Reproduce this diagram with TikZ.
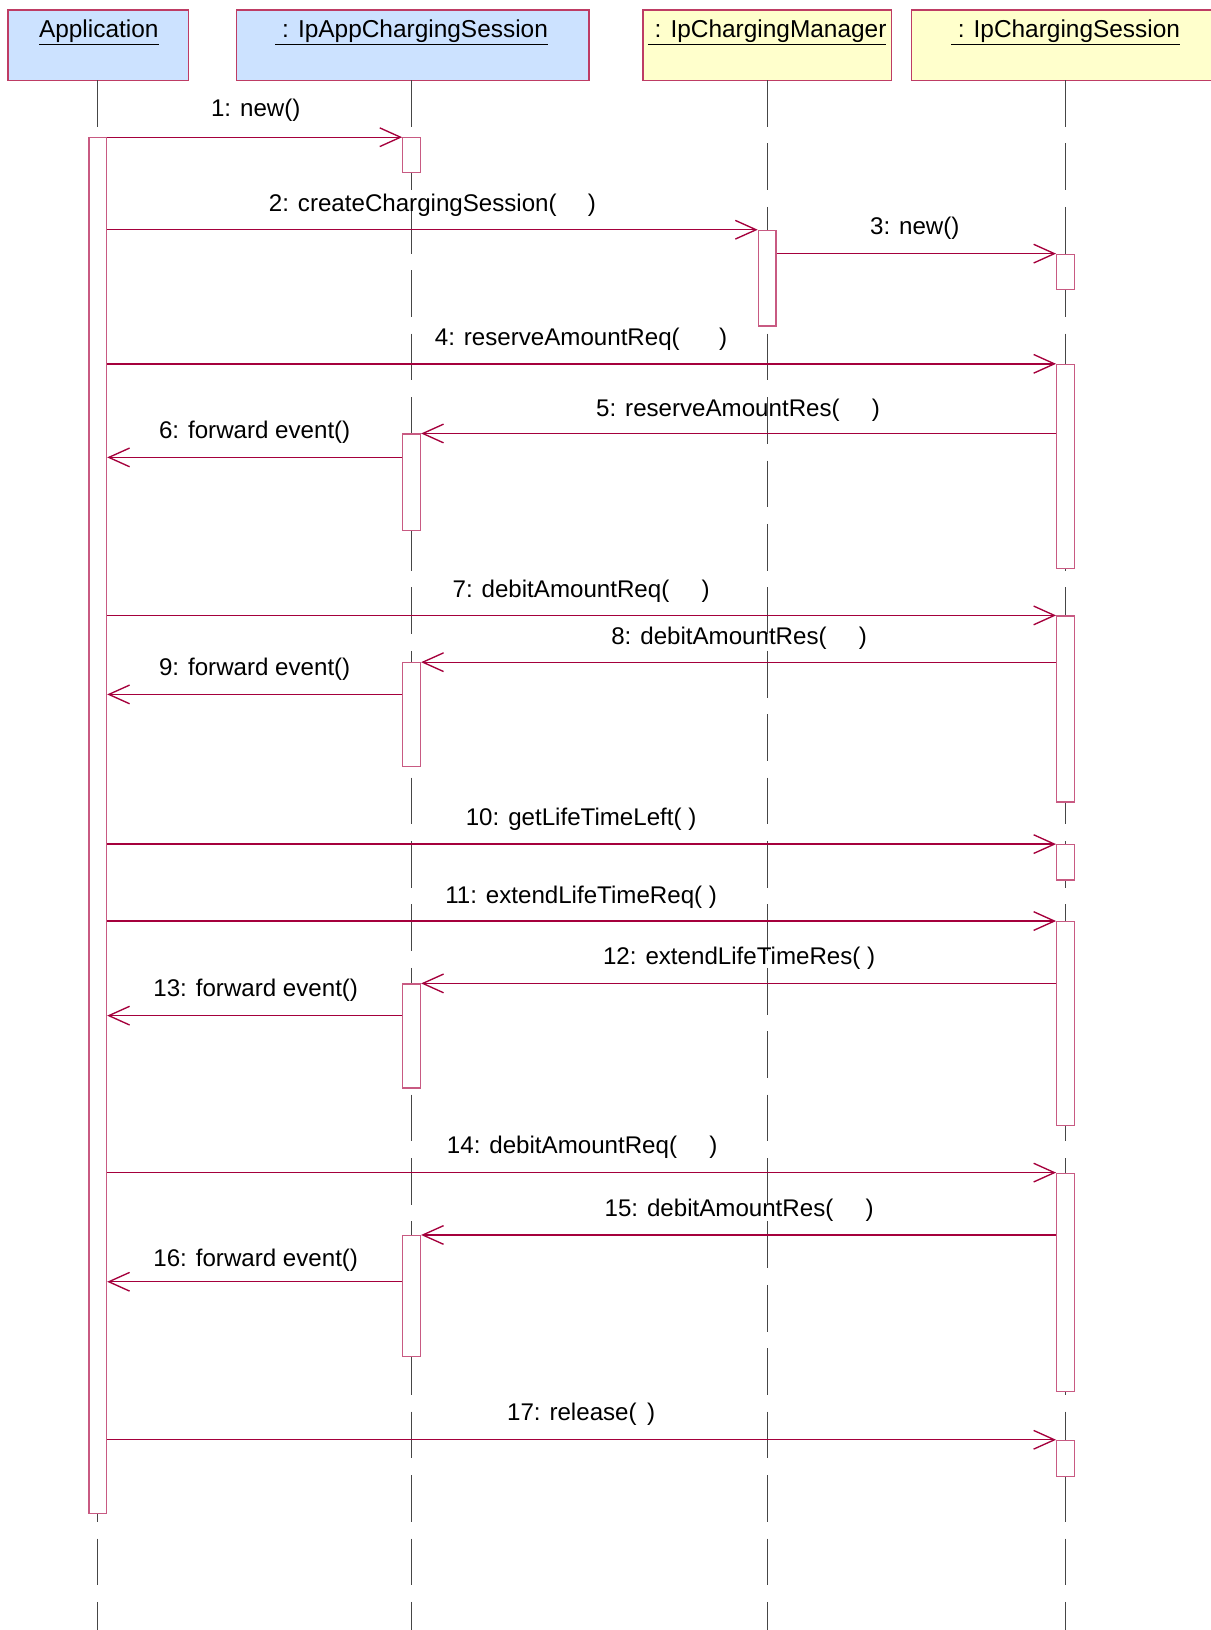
\documentclass[tikz,border=0pt]{standalone}
\usepackage{fontspec}
\setmainfont{Liberation Sans}
\usetikzlibrary{arrows.meta}
\definecolor{msgc}{RGB}{165,0,60}
\definecolor{boxc}{RGB}{190,60,100}
\definecolor{barc}{RGB}{200,90,130}
\definecolor{blueF}{RGB}{204,226,255}
\definecolor{yelF}{RGB}{255,255,204}
\definecolor{lifec}{RGB}{70,70,70}
\newcommand\actbar[4]{\node[actbar, minimum height={(#4-#3)*1pt}] (#1) at (#2,#3) {};}
\newcommand\gp[1]{\hspace{#1pt}}
\begin{document}
\begin{tikzpicture}[x=1pt,y=-1pt,
 hdr/.style={draw=boxc, line width=1.2pt, inner sep=0, anchor=north west},
 htxt/.style={font=\fontsize{23.5}{27}\selectfont, inner sep=0, anchor=base},
 life/.style={draw=lifec, line width=1.2pt, dash pattern=on 45pt off 16pt},
 actbar/.style={draw=barc, fill=white, line width=1.2pt, minimum width=17pt, inner sep=0, anchor=north},
 msg/.style={draw=msgc, line width=1.3pt, -{Straight Barb[length=20pt,width=18pt,line width=1.3pt]}},
 lbl/.style={font=\fontsize{23.2}{27}\selectfont, inner sep=0}]
\useasboundingbox (0,0) rectangle (1164,1568);
% headers
\node[hdr, fill=blueF, minimum width=174pt, minimum height=68pt] (hApp) at (7,9) {};
\node[hdr, fill=blueF, minimum width=339pt, minimum height=68pt] (hIA) at (227,9) {};
\node[hdr, fill=yelF, minimum width=239pt, minimum height=68pt] (hMg) at (618,9) {};
\node[hdr, fill=yelF, minimum width=290pt, minimum height=68pt] (hSe) at (876,9) {};
\node[htxt] (tApp) at (95,36) {\underline{Application}};
\node[htxt] (tIA) at (396,36) {\underline{\ : IpAppChargingSession}};
\node[htxt] (tMg) at (738,36) {\underline{\ : IpChargingManager}};
\node[htxt] (tSe) at (1025,36) {\underline{\ : IpChargingSession}};
% lifelines
\coordinate (lApp0) at (94,77);   \coordinate (lApp1) at (94,1568);
\coordinate (lIA0) at (396,77);   \coordinate (lIA1) at (396,1568);
\coordinate (lMg0) at (738,77);   \coordinate (lMg1) at (738,1568);
\coordinate (lSe0) at (1025,77);  \coordinate (lSe1) at (1025,1568);
\draw[life] (lApp0) -- (lApp1);
\draw[life] (lIA0) -- (lIA1);
\draw[life] (lMg0) -- (lMg1);
\draw[life] (lSe0) -- (lSe1);
% activation bars
\actbar{app}{94}{132}{1455}
\actbar{ia1}{396}{132}{165}
\actbar{mg}{738}{221}{313}
\actbar{s1}{1025}{244}{278}
\actbar{s2}{1025}{350}{546}
\actbar{ia2}{396}{417}{510}
\actbar{s3}{1025}{592}{771}
\actbar{ia3}{396}{637}{737}
\actbar{s4}{1025}{812}{846}
\actbar{s5}{1025}{886}{1082}
\actbar{ia4}{396}{946}{1046}
\actbar{s6}{1025}{1128}{1338}
\actbar{ia5}{396}{1188}{1304}
\actbar{s7}{1025}{1385}{1420}
% message heights for return arrows
\coordinate (y6) at (0,440);
\coordinate (y9) at (0,668);
\coordinate (y13) at (0,977);
\coordinate (y16) at (0,1233);
% messages
\draw[msg] (app.north east) -- (ia1.north west);
\draw[msg] (app.east |- mg.north) -- (mg.north west);
\draw[msg] (mg.east |- s1.north) -- (s1.north west);
\draw[msg] (app.east |- s2.north) -- (s2.north west);
\draw[msg] (s2.west |- ia2.north) -- (ia2.north east);
\draw[msg] (ia2.west |- y6) -- (app.east |- y6);
\draw[msg] (app.east |- s3.north) -- (s3.north west);
\draw[msg] (s3.west |- ia3.north) -- (ia3.north east);
\draw[msg] (ia3.west |- y9) -- (app.east |- y9);
\draw[msg] (app.east |- s4.north) -- (s4.north west);
\draw[msg] (app.east |- s5.north) -- (s5.north west);
\draw[msg] (s5.west |- ia4.north) -- (ia4.north east);
\draw[msg] (ia4.west |- y13) -- (app.east |- y13);
\draw[msg] (app.east |- s6.north) -- (s6.north west);
\draw[msg] (s6.west |- ia5.north) -- (ia5.north east);
\draw[msg] (ia5.west |- y16) -- (app.east |- y16);
\draw[msg] (app.east |- s7.north) -- (s7.north west);
% labels
\node[lbl] (L1) at (246,106) {1: new()};
\node[lbl] (L2) at (416,197) {2: createChargingSession(\gp{30})};
\node[lbl] (L3) at (880,220) {3: new()};
\node[lbl] (L4) at (559,326) {4: reserveAmountReq(\gp{38})};
\node[lbl] (L5) at (710,395) {5: reserveAmountRes(\gp{31})};
\node[lbl] (L6) at (245,416) {6: forward event()};
\node[lbl] (L7) at (559,569) {7: debitAmountReq(\gp{31})};
\node[lbl] (L8) at (711,614) {8: debitAmountRes(\gp{31})};
\node[lbl] (L9) at (245,644) {9: forward event()};
\node[lbl] (L10) at (559,788) {10: getLifeTimeLeft( )};
\node[lbl] (L11) at (559,863) {11: extendLifeTimeReq( )};
\node[lbl] (L12) at (711,922) {12: extendLifeTimeRes( )};
\node[lbl] (L13) at (246,953) {13: forward event()};
\node[lbl] (L14) at (560,1104) {14: debitAmountReq(\gp{31})};
\node[lbl] (L15) at (711,1164) {15: debitAmountRes(\gp{31})};
\node[lbl] (L16) at (246,1212) {16: forward event()};
\node[lbl] (L17) at (559,1360) {17: release(\gp{10})};
\end{tikzpicture}
\end{document}
